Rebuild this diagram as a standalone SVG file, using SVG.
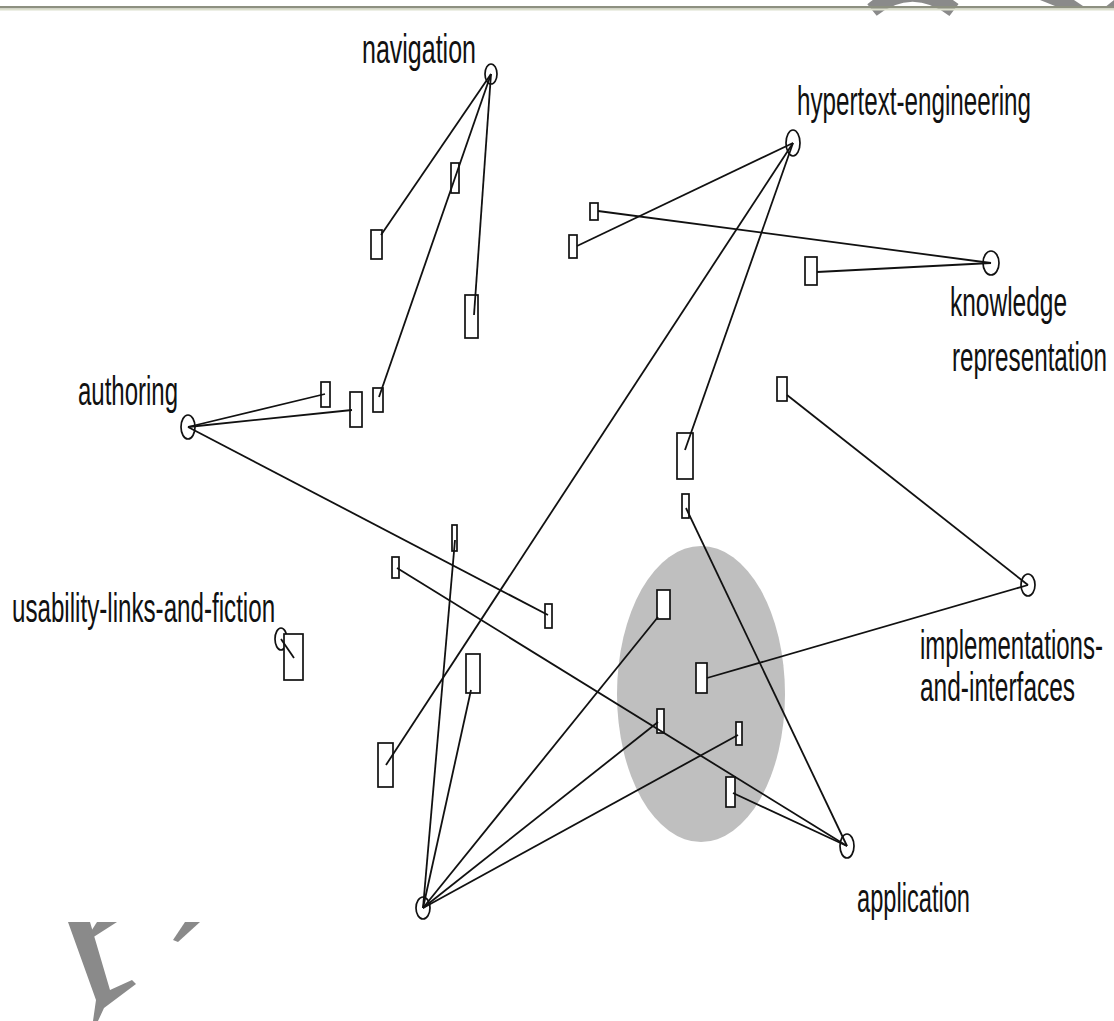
<svg xmlns="http://www.w3.org/2000/svg" width="1114" height="1021" viewBox="0 0 1114 1021">
<style>
.n{fill:none;stroke:#111;stroke-width:1.7}
.r{fill:#fff;stroke:#111;stroke-width:1.7}
#connectors line{stroke:#111;stroke-width:1.8}
.t{font-family:"Liberation Sans",Arial,sans-serif;font-size:40px;fill:#111}
.wm{fill:#8a8a8a;stroke:none}
</style>
<rect x="0" y="0" width="1114" height="1021" fill="#fff"/>
<g id="watermark">
<path d="M872,10 Q912,-22 954,10" fill="none" stroke="#8a8a8a" stroke-width="15"/>
<polygon class="wm" points="1040,0 1074,0 1086,8 1060,8"/>
<polygon class="wm" points="1104,8 1114,0 1114,8"/>
<polygon class="wm" points="68,922 90,922 110,990 132,980 136,984 104,1008 98,1021 93,1021 96,1000"/>
<polygon class="wm" points="97,922 117,922 92,938 88,936"/>
<polygon class="wm" points="185,922 200,922 178,942 173,940"/>
</g>
<rect x="0" y="6" width="1114" height="2.5" fill="#8d9080"/>
<rect x="0" y="8.5" width="1114" height="2" fill="#dcdfcd"/>
<g id="cluster"><ellipse cx="701" cy="694" rx="84" ry="148" fill="#bfbfbf"/></g>
<g id="nodes">
<g id="navigation"><ellipse class="n" cx="491" cy="74" rx="6" ry="10"/><text class="t" transform="translate(362,63) scale(0.625,1)">navigation</text></g>
<g id="hypertext-engineering"><ellipse class="n" cx="793" cy="143" rx="7" ry="13"/><text class="t" transform="translate(797,115) scale(0.605,1)">hypertext-engineering</text></g>
<g id="knowledge-representation"><ellipse class="n" cx="991" cy="263" rx="8" ry="12"/><text class="t" transform="translate(950,316) scale(0.612,1)">knowledge</text><text class="t" transform="translate(952,371) scale(0.606,1)">representation</text></g>
<g id="authoring"><ellipse class="n" cx="188" cy="427" rx="7" ry="12"/><text class="t" transform="translate(78,405) scale(0.6,1)">authoring</text></g>
<g id="usability-links-and-fiction"><ellipse class="n" cx="281" cy="639" rx="6" ry="11"/><text class="t" transform="translate(12,622) scale(0.604,1)">usability-links-and-fiction</text></g>
<g id="implementations-and-interfaces"><ellipse class="n" cx="1028" cy="585" rx="7" ry="11"/><text class="t" transform="translate(920,659) scale(0.601,1)">implementations-</text><text class="t" transform="translate(920,701) scale(0.612,1)">and-interfaces</text></g>
<g id="application"><ellipse class="n" cx="847" cy="846" rx="7" ry="12"/><text class="t" transform="translate(857,912) scale(0.591,1)">application</text></g>
<g id="hub"><ellipse class="n" cx="423" cy="908" rx="7" ry="11"/></g>
<g id="d1"><rect class="r" x="371" y="230" width="11" height="29"/></g>
<g id="d2"><rect class="r" x="451" y="163" width="8" height="30"/></g>
<g id="d3"><rect class="r" x="465" y="295" width="13" height="43"/></g>
<g id="d4"><rect class="r" x="590" y="203" width="8" height="17"/></g>
<g id="d5"><rect class="r" x="569" y="235" width="8" height="23"/></g>
<g id="d6"><rect class="r" x="805" y="257" width="12" height="28"/></g>
<g id="d7"><rect class="r" x="321" y="382" width="9" height="25"/></g>
<g id="d8"><rect class="r" x="350" y="392" width="12" height="35"/></g>
<g id="d9"><rect class="r" x="373" y="388" width="10" height="24"/></g>
<g id="d10"><rect class="r" x="777" y="377" width="10" height="24"/></g>
<g id="d11"><rect class="r" x="677" y="433" width="16" height="46"/></g>
<g id="d12"><rect class="r" x="682" y="494" width="7" height="24"/></g>
<g id="d13"><rect class="r" x="452" y="525" width="5" height="26"/></g>
<g id="d14"><rect class="r" x="392" y="557" width="7" height="21"/></g>
<g id="d15"><rect class="r" x="545" y="604" width="7" height="24"/></g>
<g id="d16"><rect class="r" x="284" y="634" width="19" height="46"/></g>
<g id="d17"><rect class="r" x="657" y="590" width="13" height="29"/></g>
<g id="d18"><rect class="r" x="466" y="654" width="14" height="39"/></g>
<g id="d19"><rect class="r" x="696" y="663" width="11" height="30"/></g>
<g id="d20"><rect class="r" x="657" y="709" width="7" height="24"/></g>
<g id="d21"><rect class="r" x="736" y="722" width="6" height="23"/></g>
<g id="d22"><rect class="r" x="378" y="743" width="15" height="44"/></g>
<g id="d23"><rect class="r" x="726" y="777" width="9" height="30"/></g>
</g>
<g id="connectors">
<line x1="491" y1="74" x2="381" y2="235"/>
<line x1="491" y1="74" x2="379" y2="397"/>
<line x1="491" y1="74" x2="474" y2="315"/>
<line x1="793" y1="143" x2="577" y2="246"/>
<line x1="598" y1="211" x2="991" y2="263"/>
<line x1="817" y1="272" x2="991" y2="263"/>
<line x1="793" y1="143" x2="386" y2="765"/>
<line x1="793" y1="143" x2="685" y2="450"/>
<line x1="188" y1="427" x2="325" y2="394"/>
<line x1="188" y1="427" x2="352" y2="410"/>
<line x1="188" y1="427" x2="548" y2="615"/>
<line x1="397" y1="568" x2="847" y2="846"/>
<line x1="686" y1="508" x2="847" y2="846"/>
<line x1="787" y1="395" x2="1028" y2="585"/>
<line x1="707" y1="678" x2="1028" y2="585"/>
<line x1="733" y1="793" x2="847" y2="846"/>
<line x1="423" y1="908" x2="455" y2="540"/>
<line x1="423" y1="908" x2="471" y2="690"/>
<line x1="423" y1="908" x2="658" y2="617"/>
<line x1="423" y1="908" x2="658" y2="722"/>
<line x1="423" y1="908" x2="738" y2="735"/>
<line x1="281" y1="639" x2="294" y2="658"/>
</g>
</svg>
